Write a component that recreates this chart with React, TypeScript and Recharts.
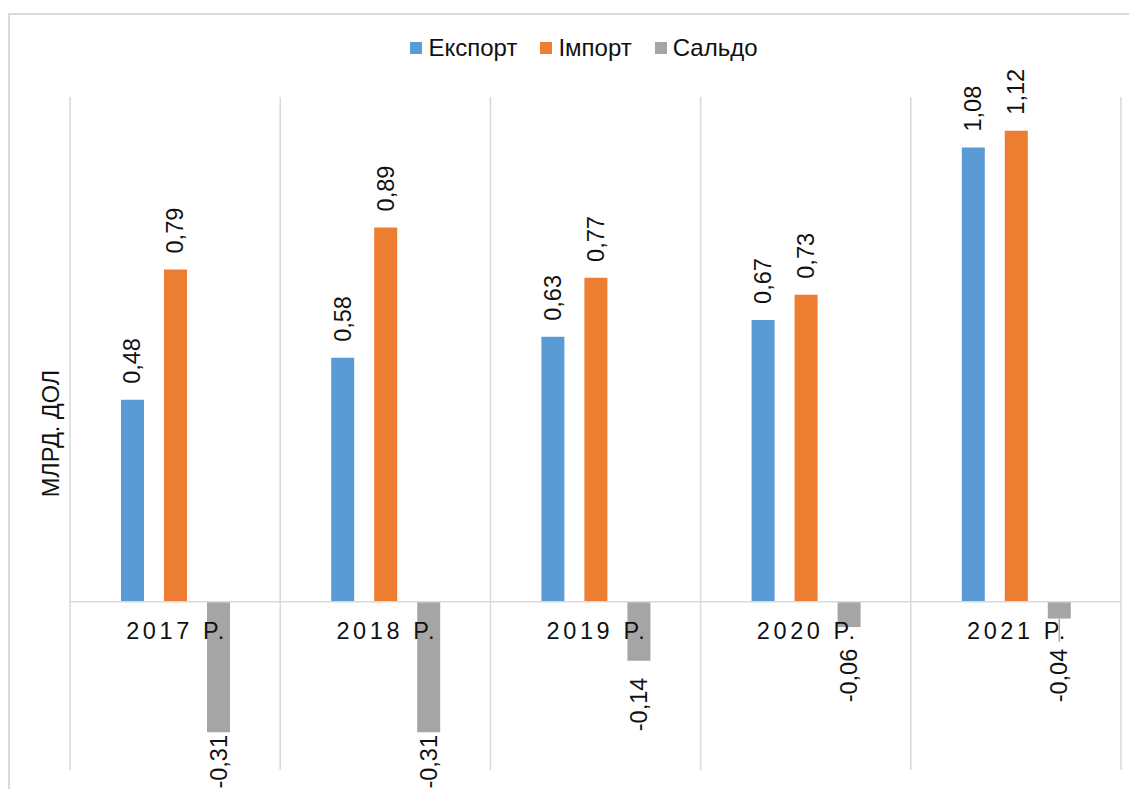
import React from 'react'
import { BarChart, Bar, XAxis, YAxis, CartesianGrid, ReferenceLine, LabelList } from 'recharts'

const years = ['2017 Р.', '2018 Р.', '2019 Р.', '2020 Р.', '2021 Р.']
const exportVals = [0.48, 0.58, 0.63, 0.67, 1.08]
const importVals = [0.79, 0.89, 0.77, 0.73, 1.12]
const saldoVals = [-0.31, -0.31, -0.14, -0.06, -0.04]

const seriesNames = { exp: 'Експорт', imp: 'Імпорт', sal: 'Сальдо' }
const colors = { exp: '#5b9bd5', imp: '#ed7d31', sal: '#a5a5a5' }

const data = years.map((year, i) => ({
  year,
  exp: exportVals[i],
  imp: importVals[i],
  sal: saldoVals[i],
}))

const FONT = '"Liberation Sans", Arial, sans-serif'
const W = 1128
const H = 790
const TOP = 84
const X_AXIS_H = 33
const PLOT_BOTTOM = H - X_AXIS_H
const Y_MIN = -0.4
const Y_MAX = 1.2
// where the zero line sits, the category labels hang from it
const ZERO_Y = TOP + ((Y_MAX - 0) / (Y_MAX - Y_MIN)) * (PLOT_BOTTOM - TOP)

const fmt = (v: number) => v.toFixed(2).replace('.', ',')

const BarLabel = (props: any) => {
  const { x, y, width, height, value } = props
  if (value == null) return null
  const cx = x + width / 2
  const top = Math.min(y, y + height)
  const bottom = Math.max(y, y + height)
  const style = { fontFamily: FONT, fontSize: 23.5, fill: '#111' }
  if (value >= 0) {
    const ly = top - 16
    return (
      <text x={cx} y={ly} transform={`rotate(-90 ${cx} ${ly})`} textAnchor="start" dominantBaseline="central" style={style}>
        {fmt(value)}
      </text>
    )
  }
  let t = Math.max(bottom + 17, ZERO_Y + 47)
  t = Math.min(t, PLOT_BOTTOM - 35)
  const leader = t - bottom > 22
  return (
    <g>
      {leader && <line x1={cx} y1={bottom} x2={cx} y2={t - 7} stroke="#a5a5a5" strokeWidth={1.5} />}
      <text x={cx} y={t} transform={`rotate(-90 ${cx} ${t})`} textAnchor="end" dominantBaseline="central" style={style}>
        {fmt(value)}
      </text>
    </g>
  )
}

const YearTick = (props: any) => {
  const { x, payload } = props
  return (
    <text x={x + 2} y={ZERO_Y + 37} textAnchor="middle" style={{ fontFamily: FONT, fontSize: 23.5, letterSpacing: 3.6, fill: '#111' }}>
      {payload.value}
    </text>
  )
}

const YTitle = (props: any) => {
  const { viewBox } = props
  const cx = 43
  const cy = viewBox.y + viewBox.height / 2
  return (
    <text x={cx} y={cy} transform={`rotate(-90 ${cx} ${cy})`} textAnchor="middle" dominantBaseline="central" style={{ fontFamily: FONT, fontSize: 23.5, fill: '#111' }}>
      МЛРД. ДОЛ
    </text>
  )
}

const LegendRow = () => (
  <div
    style={{
      position: 'absolute',
      top: 21,
      left: 0,
      width: W,
      paddingLeft: 24,
      boxSizing: 'border-box',
      display: 'flex',
      justifyContent: 'center',
      gap: 23,
      fontFamily: FONT,
      fontSize: 24,
      lineHeight: '28px',
      color: '#111',
    }}
  >
    {(['exp', 'imp', 'sal'] as const).map(k => (
      <div key={k} style={{ display: 'flex', alignItems: 'center', gap: 6 }}>
        <span style={{ width: 12, height: 12, background: colors[k], display: 'inline-block' }} />
        <span>{seriesNames[k]}</span>
      </div>
    ))}
  </div>
)

export default function App() {
  return (
    <div style={{ position: 'relative', top: 5, width: W, height: H }}>
      <div style={{ position: 'absolute', inset: 0, border: '2px solid #d9d9d9', boxSizing: 'border-box' }} />
      <LegendRow />
      <div style={{ position: 'absolute', left: 0, top: 0 }}>
        <BarChart width={W} height={H} data={data} margin={{ top: TOP, right: 15, bottom: 0, left: 0 }} barSize={23} barGap={20}>
          <CartesianGrid
            horizontal={false}
            stroke="#d9d9d9"
            strokeWidth={1.5}
            verticalCoordinatesGenerator={({ offset }: any) =>
              years.map((_, i) => offset.left + (i * offset.width) / years.length).concat(offset.left + offset.width)
            }
          />
          <XAxis dataKey="year" height={X_AXIS_H} axisLine={false} tickLine={false} tick={<YearTick />} interval={0} />
          <YAxis width={62} domain={[Y_MIN, Y_MAX]} tick={false} axisLine={false} tickLine={false} label={<YTitle />} />
          <ReferenceLine y={0} stroke="#d9d9d9" strokeWidth={1.5} />
          <Bar dataKey="exp" name={seriesNames.exp} fill={colors.exp} isAnimationActive={false}>
            <LabelList dataKey="exp" content={<BarLabel />} />
          </Bar>
          <Bar dataKey="imp" name={seriesNames.imp} fill={colors.imp} isAnimationActive={false}>
            <LabelList dataKey="imp" content={<BarLabel />} />
          </Bar>
          <Bar dataKey="sal" name={seriesNames.sal} fill={colors.sal} isAnimationActive={false}>
            <LabelList dataKey="sal" content={<BarLabel />} />
          </Bar>
        </BarChart>
      </div>
    </div>
  )
}
